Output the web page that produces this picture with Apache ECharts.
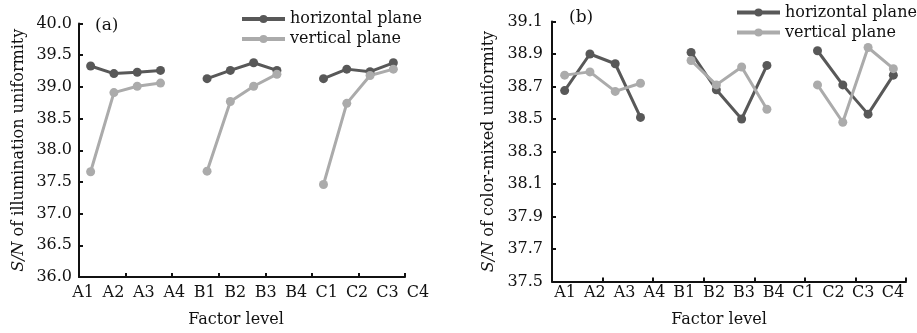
<!DOCTYPE html>
<html><head><meta charset="utf-8">
<script src="https://cdn.jsdelivr.net/npm/echarts@6/dist/echarts.min.js"></script>
<style>html,body{margin:0;padding:0;background:#fff}#c{width:917px;height:333px}</style>
</head><body><div id="c"></div>
<script>
const levelLabels = ['A1','A2','A3','A4','B1','B2','B3','B4','C1','C2','C3','C4'];
const illumHorizontal = [39.33,39.21,39.23,39.26, 39.13,39.26,39.38,39.26, 39.13,39.28,39.24,39.38];
const illumVertical   = [37.66,38.91,39.01,39.06, 37.67,38.77,39.01,39.20, 37.46,38.74,39.18,39.28];
const colorHorizontal = [38.675,38.90,38.84,38.51, 38.91,38.68,38.50,38.83, 38.92,38.71,38.53,38.77];
const colorVertical   = [38.77,38.79,38.67,38.72, 38.86,38.71,38.82,38.56, 38.71,38.48,38.94,38.81];
const seriesNames = ['horizontal plane','vertical plane'];
const panelTags = ['(a)','(b)'];
const yTitlesMain = ['of illumination uniformity','of color-mixed uniformity'];
const xTitle = 'Factor level';

// 14 slots: 4 levels per factor with one empty slot between factors
function toSlots(vals){
  const out=[];
  vals.forEach((v,i)=>{ out.push(v); if(i%4===3 && i<vals.length-1) out.push(null); });
  return out;
}
const slotCats = toSlots(levelLabels).map((v,i)=>'s'+i);

const FONT = 'DejaVu Serif';
const DARK = '#585858', LIGHT = '#ababab', INK = '#111';

const chart = echarts.init(document.getElementById('c'));

function mainX(gi){
  return {gridIndex:gi, type:'category', data:slotCats, boundaryGap:true,
    axisLine:{lineStyle:{color:INK,width:2}},
    axisTick:{show:true, inside:true, length:4, lineStyle:{color:INK,width:2}},
    axisLabel:{show:false}, splitLine:{show:false}};
}
function labelX(gi, margin, nameGap, pad){
  return {gridIndex:gi, type:'category', data:levelLabels, boundaryGap:false,
    axisLine:{show:false}, axisTick:{show:false}, splitLine:{show:false},
    axisLabel:{show:true, interval:0, margin:margin, color:INK, fontFamily:FONT, fontSize:16},
    name:xTitle, nameLocation:'middle', nameGap:nameGap,
    nameTextStyle:{color:INK, fontFamily:FONT, fontSize:16, padding:pad}};
}
function mainY(gi,min,max,interval,gap,title,margin){
  return {gridIndex:gi, type:'value', min:min, max:max, interval:interval,
    axisLine:{show:true, lineStyle:{color:INK,width:2}},
    axisTick:{show:true, inside:true, length:4, lineStyle:{color:INK,width:2}},
    splitLine:{show:false},
    axisLabel:{color:INK, fontFamily:FONT, fontSize:16, margin:margin,
      formatter:v=>v.toFixed(1)},
    name:'{i|S/N} '+title, nameLocation:'middle', nameRotate:90, nameGap:gap,
    nameTextStyle:{color:INK, fontFamily:FONT, fontSize:16,
      rich:{i:{fontStyle:'italic', fontFamily:FONT, fontSize:16, color:INK}}}};
}
function hiddenY(gi){ return {gridIndex:gi, type:'value', show:false, min:0, max:1}; }

function line(name, gi, vals, color){
  return {name:name, type:'line', xAxisIndex:gi, yAxisIndex:gi, data:toSlots(vals),
    connectNulls:false, symbol:'circle', symbolSize:9, color:color,
    lineStyle:{color:color,width:3}, itemStyle:{color:color}, emphasis:{disabled:true}, animation:false};
}
function legend(left, top){
  return {orient:'vertical', left:left, top:top, padding:0, itemWidth:43, itemHeight:10, itemGap:4,
    data:seriesNames, textStyle:{fontFamily:FONT,fontSize:16,color:INK}, selectedMode:false,
    lineStyle:{width:4}};
}

chart.setOption({
  animation:false,
  textStyle:{fontFamily:FONT},
  title:[
    {text:panelTags[0], left:90, top:12, textStyle:{fontFamily:FONT,fontSize:17,fontWeight:'normal',color:INK}},
    {text:panelTags[1], left:564, top:4, textStyle:{fontFamily:FONT,fontSize:17,fontWeight:'normal',color:INK}}
  ],
  legend:[ legend(240, 11), legend(735, 4.5) ],
  grid:[
    {left:79, top:23.5, width:326, height:253.5},
    {left:552, top:21.5, width:354, height:260},
    {left:83, top:23.5, width:335, height:253.5},
    {left:565, top:21.5, width:328, height:260}
  ],
  xAxis:[ mainX(0), mainX(1), labelX(2,8,35,[0,29,0,0]), labelX(3,13,40,[0,20,0,0]) ],
  yAxis:[ mainY(0,36,40,0.5,52,yTitlesMain[0],7), mainY(1,37.5,39.1,0.2,55,yTitlesMain[1],9), hiddenY(2), hiddenY(3) ],
  series:[
    line(seriesNames[0],0,illumHorizontal,DARK),
    line(seriesNames[1],0,illumVertical,LIGHT),
    line(seriesNames[0],1,colorHorizontal,DARK),
    line(seriesNames[1],1,colorVertical,LIGHT)
  ]
});
</script></body></html>
